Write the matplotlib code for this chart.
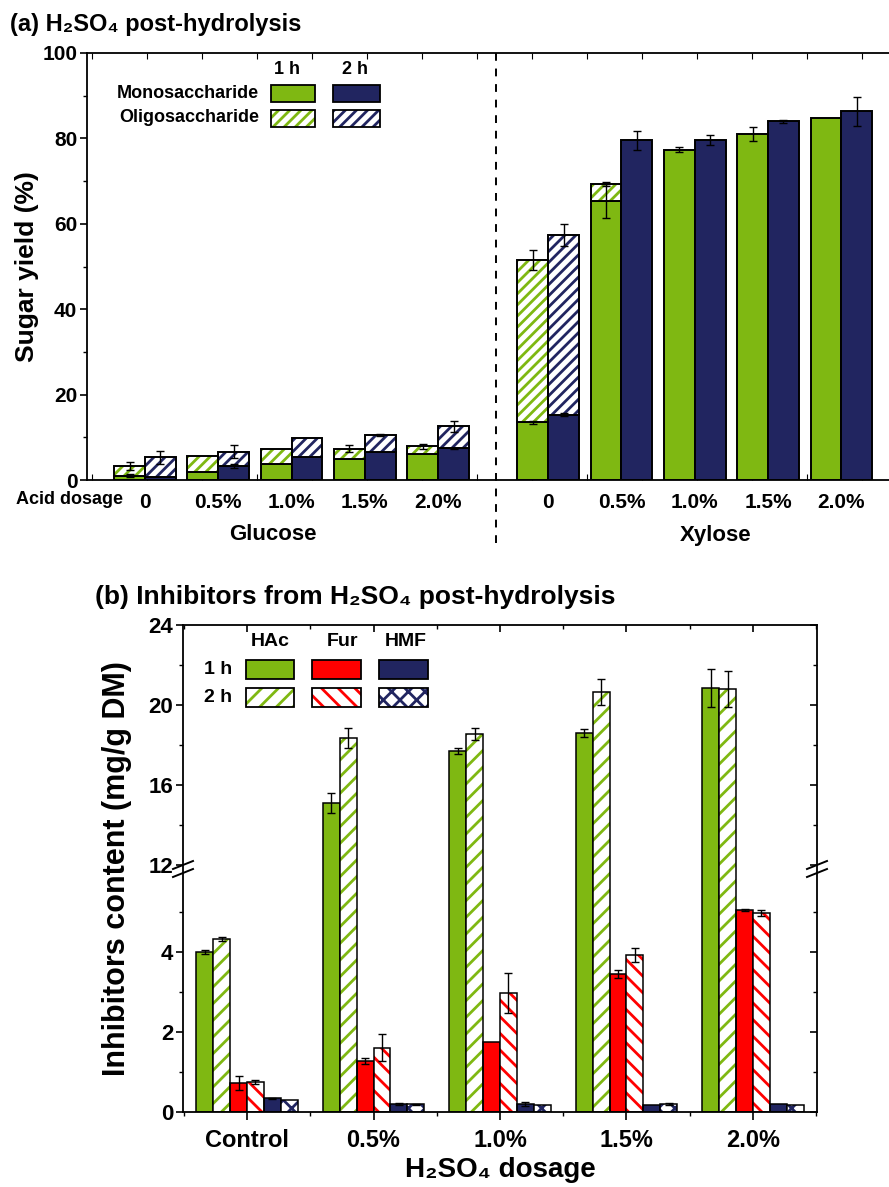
import numpy as np
import matplotlib
matplotlib.use("Agg")
import matplotlib.pyplot as plt
from matplotlib.patches import Rectangle

plt.rcParams['font.family'] = ['Liberation Sans', 'DejaVu Sans']
plt.rcParams['font.weight'] = 'bold'
plt.rcParams['hatch.linewidth'] = 2.0

W, H = 889, 1187
fig = plt.figure(figsize=(W / 100, H / 100), dpi=100)

def fx(x):
    return x / W

def fy(y):
    return 1 - y / H

GREEN = '#7fb812'
NAVY = '#212560'
RED = '#ff0000'

# ---------------- data: panel (a) ----------------
dosages_a = ['0', '0.5%', '1.0%', '1.5%', '2.0%']
glu_mono_1h = [1.0, 1.8, 3.7, 5.0, 6.1]
glu_total_1h = [3.2, 5.6, 7.2, 7.3, 7.9]
glu_mono_2h = [0.6, 3.3, 5.3, 6.6, 7.4]
glu_total_2h = [5.3, 6.6, 9.9, 10.5, 12.6]
glu_err_total_1h = [0.9, 0.0, 0.0, 0.8, 0.6]
glu_err_total_2h = [1.5, 1.5, 0.0, 0.3, 1.3]
glu_err_mono_1h = [0.4, 0.0, 0.0, 0.0, 0.0]
glu_err_mono_2h = [0.0, 0.5, 0.0, 0.0, 0.2]

xyl_mono_1h = [13.5, 65.3, 77.4, 81.0, 84.7]
xyl_total_1h = [51.5, 69.3, 77.4, 81.0, 84.7]
xyl_mono_2h = [15.3, 79.6, 79.6, 84.0, 86.4]
xyl_total_2h = [57.4, 79.6, 79.6, 84.0, 86.4]
xyl_err_total_1h = [2.3, 0.5, 0.5, 1.6, 0.0]
xyl_err_total_2h = [2.6, 2.2, 1.2, 0.3, 3.4]
xyl_err_mono_1h = [0.3, 4.0, 0.0, 0.0, 0.0]
xyl_err_mono_2h = [0.3, 0.0, 0.0, 0.0, 0.0]

# ---------------- data: panel (b) ----------------
dosages_b = ['Control', '0.5%', '1.0%', '1.5%', '2.0%']
hac_1h = [4.00, 15.1, 17.7, 18.6, 20.85]
hac_2h = [4.33, 18.35, 18.55, 20.65, 20.8]
fur_1h = [0.73, 1.28, 1.76, 3.44, 5.05]
fur_2h = [0.76, 1.61, 2.97, 3.93, 4.98]
hmf_1h = [0.34, 0.20, 0.20, 0.18, 0.19]
hmf_2h = [0.30, 0.19, 0.18, 0.20, 0.18]
hac_1h_err = [0.05, 0.5, 0.15, 0.2, 0.95]
hac_2h_err = [0.05, 0.5, 0.3, 0.65, 0.9]
fur_1h_err = [0.17, 0.08, 0.0, 0.1, 0.02]
fur_2h_err = [0.05, 0.33, 0.5, 0.17, 0.08]
hmf_1h_err = [0.01, 0.02, 0.06, 0.0, 0.0]
hmf_2h_err = [0.0, 0.01, 0.0, 0.02, 0.0]


def hatched_bar(ax, x, h, bottom, color, hatch, width, lw):
    ax.bar(x, h, width, bottom=bottom, color='white', edgecolor=color,
           hatch=hatch, linewidth=0, zorder=2)
    ax.bar(x, h, width, bottom=bottom, fill=False, edgecolor='black',
           linewidth=lw, zorder=2.5)


def errs(ax, x, y, e, cap=3.2):
    x = np.asarray(x, float); y = np.asarray(y, float); e = np.asarray(e, float)
    m = e > 0
    if m.any():
        ax.errorbar(x[m], y[m], yerr=e[m], fmt='none', ecolor='black',
                    elinewidth=1.0, capsize=cap, capthick=1.0, zorder=4)


# ======================= panel (a) =======================
axA = fig.add_axes([fx(87), fy(480), fx(889) - fx(87), fy(53) - fy(480)])
bw = 0.42
glu_x = np.arange(5, dtype=float)
xyl_x = np.arange(5, dtype=float) + 5.5

for xs, m1, t1, m2, t2 in [(glu_x, glu_mono_1h, glu_total_1h, glu_mono_2h, glu_total_2h),
                           (xyl_x, xyl_mono_1h, xyl_total_1h, xyl_mono_2h, xyl_total_2h)]:
    m1 = np.array(m1); t1 = np.array(t1); m2 = np.array(m2); t2 = np.array(t2)
    axA.bar(xs - bw / 2, m1, bw, color=GREEN, edgecolor='black', linewidth=1.4, zorder=2)
    axA.bar(xs + bw / 2, m2, bw, color=NAVY, edgecolor='black', linewidth=1.4, zorder=2)
    for i in range(5):
        if t1[i] - m1[i] > 0.05:
            hatched_bar(axA, xs[i] - bw / 2, t1[i] - m1[i], m1[i], GREEN, '///', bw, 1.4)
        if t2[i] - m2[i] > 0.05:
            hatched_bar(axA, xs[i] + bw / 2, t2[i] - m2[i], m2[i], NAVY, '///', bw, 1.4)

errs(axA, glu_x - bw / 2, glu_total_1h, glu_err_total_1h)
errs(axA, glu_x + bw / 2, glu_total_2h, glu_err_total_2h)
errs(axA, glu_x - bw / 2, glu_mono_1h, glu_err_mono_1h)
errs(axA, glu_x + bw / 2, glu_mono_2h, glu_err_mono_2h)
errs(axA, xyl_x - bw / 2, xyl_total_1h, xyl_err_total_1h)
errs(axA, xyl_x + bw / 2, xyl_total_2h, xyl_err_total_2h)
errs(axA, xyl_x - bw / 2, xyl_mono_1h, xyl_err_mono_1h)
errs(axA, xyl_x + bw / 2, xyl_mono_2h, xyl_err_mono_2h)

axA.set_xlim(-0.79, 10.15)
axA.set_ylim(0, 100)
axA.spines['right'].set_visible(False)
for s in ['left', 'top', 'bottom']:
    axA.spines[s].set_linewidth(1.3)
axA.set_yticks(np.arange(0, 101, 20))
axA.set_yticks(np.arange(10, 100, 20), minor=True)
axA.set_yticklabels([str(v) for v in range(0, 101, 20)], fontsize=15, fontweight='bold')
axA.tick_params(axis='y', which='major', direction='out', length=5, width=1.2, pad=2)
axA.tick_params(axis='y', which='minor', direction='out', length=3, width=1.0)
axA.set_xticks(np.concatenate([glu_x, xyl_x]))
axA.set_xticklabels(dosages_a + dosages_a, fontsize=15, fontweight='bold')
axA.set_xticks(-0.723 + 0.75 * np.arange(15), minor=True)
axA.tick_params(axis='x', which='major', length=0, pad=9)
axA.tick_params(axis='x', which='minor', direction='in', length=4, width=0.8,
                top=True, bottom=True)
axA.set_ylabel('Sugar yield (%)', fontsize=19, fontweight='bold', labelpad=2)

# dashed separator
xd = 4.79
axA.plot([xd, xd], [100, -16], linestyle=(0, (4, 4)), color='black', linewidth=1.4,
         clip_on=False, zorder=5)

fig.text(fx(70), fy(500), 'Acid dosage', fontsize=13, fontweight='bold', ha='center', va='center')
fig.text(fx(273), fy(535), 'Glucose', fontsize=16, fontweight='bold', ha='center', va='center')
fig.text(fx(716), fy(535), 'Xylose', fontsize=16, fontweight='bold', ha='center', va='center')
fig.text(fx(10), fy(25), '(a) H₂SO₄ post-hydrolysis', fontsize=17, fontweight='bold',
         ha='left', va='center')

# legend (a)
fig.text(fx(287), fy(70), '1 h', fontsize=13, fontweight='bold', ha='center', va='center')
fig.text(fx(355), fy(70), '2 h', fontsize=13, fontweight='bold', ha='center', va='center')
fig.text(fx(259), fy(93), 'Monosaccharide', fontsize=13, fontweight='bold', ha='right', va='center')
fig.text(fx(259), fy(118), 'Oligosaccharide', fontsize=13, fontweight='bold', ha='right', va='center')


def leg_box(x0, y0, x1, y1, color, hatch=None, lw=1.3):
    if hatch is None:
        fig.add_artist(Rectangle((fx(x0), fy(y1)), fx(x1) - fx(x0), fy(y0) - fy(y1),
                                 transform=fig.transFigure, facecolor=color,
                                 edgecolor='black', linewidth=lw))
    else:
        fig.add_artist(Rectangle((fx(x0), fy(y1)), fx(x1) - fx(x0), fy(y0) - fy(y1),
                                 transform=fig.transFigure, facecolor='white',
                                 edgecolor=color, hatch=hatch, linewidth=0))
        fig.add_artist(Rectangle((fx(x0), fy(y1)), fx(x1) - fx(x0), fy(y0) - fy(y1),
                                 transform=fig.transFigure, fill=False,
                                 edgecolor='black', linewidth=lw))


leg_box(271, 85, 315, 102, GREEN)
leg_box(333, 85, 380, 102, NAVY)
leg_box(271, 110, 315, 127, GREEN, '///')
leg_box(333, 110, 380, 127, NAVY, '///')

# ======================= panel (b) =======================
BREAK_LO, BREAK_HI, GAP = 6.0, 12.0, 0.18


def fwd(v):
    v = np.asarray(v, float)
    return np.where(v <= BREAK_LO, v,
                    np.where(v >= BREAK_HI, BREAK_LO + GAP + (v - BREAK_HI) / 2.0,
                             BREAK_LO + GAP * (v - BREAK_LO) / (BREAK_HI - BREAK_LO)))


def inv(d):
    d = np.asarray(d, float)
    return np.where(d <= BREAK_LO, d,
                    np.where(d >= BREAK_LO + GAP, BREAK_HI + (d - BREAK_LO - GAP) * 2.0,
                             BREAK_LO + (d - BREAK_LO) * (BREAK_HI - BREAK_LO) / GAP))


axB = fig.add_axes([fx(183), fy(1112), fx(817) - fx(183), fy(625) - fy(1112)])
axB.set_yscale('function', functions=(fwd, inv))
bwb = 0.134
xb = np.arange(5, dtype=float)
offs = (np.arange(6) - 2.5) * bwb
lwb = 1.1
axB.bar(xb + offs[0], hac_1h, bwb, color=GREEN, edgecolor='black', linewidth=lwb, zorder=2)
for i in range(5):
    hatched_bar(axB, xb[i] + offs[1], hac_2h[i], 0, GREEN, '//', bwb, lwb)
axB.bar(xb + offs[2], fur_1h, bwb, color=RED, edgecolor='black', linewidth=lwb, zorder=2)
for i in range(5):
    hatched_bar(axB, xb[i] + offs[3], fur_2h[i], 0, RED, '\\\\', bwb, lwb)
axB.bar(xb + offs[4], hmf_1h, bwb, color=NAVY, edgecolor='black', linewidth=lwb, zorder=2)
for i in range(5):
    hatched_bar(axB, xb[i] + offs[5], hmf_2h[i], 0, NAVY, 'xx', bwb, lwb)

errs(axB, xb + offs[0], hac_1h, hac_1h_err, 3)
errs(axB, xb + offs[1], hac_2h, hac_2h_err, 3)
errs(axB, xb + offs[2], fur_1h, fur_1h_err, 3)
errs(axB, xb + offs[3], fur_2h, fur_2h_err, 3)
errs(axB, xb + offs[4], hmf_1h, hmf_1h_err, 3)
errs(axB, xb + offs[5], hmf_2h, hmf_2h_err, 3)

axB.set_xlim(-0.506, 4.506)
axB.set_ylim(0, 24)
for s in axB.spines.values():
    s.set_linewidth(1.3)
yt = [0, 2, 4, 12, 16, 20, 24]
ytm = [1, 3, 5, 14, 18, 22]
axB.set_yticks(yt)
axB.set_yticklabels([str(v) for v in yt], fontsize=16, fontweight='bold')
axB.set_yticks(ytm, minor=True)
axB.tick_params(axis='y', which='major', direction='out', length=5, width=1.2, pad=2)
axB.tick_params(axis='y', which='minor', direction='out', length=3, width=1.0)
axB.set_xticks(xb)
axB.set_xticklabels(dosages_b, fontsize=17, fontweight='bold')
axB.set_xticks(np.arange(-0.5, 4.6, 1.0), minor=True)
axB.tick_params(axis='x', which='major', direction='out', length=6, width=1.2, pad=6)
axB.tick_params(axis='x', which='minor', direction='out', length=3, width=1.0)
axB.set_ylabel('Inhibitors content (mg/g DM)', fontsize=22, fontweight='bold', labelpad=12)
axB.set_xlabel('H₂SO₄ dosage', fontsize=20, fontweight='bold', labelpad=4)

# inward ticks on right / top via twin axes
axR = axB.twinx()
axR.set_yscale('function', functions=(fwd, inv))
axR.set_ylim(0, 24)
axR.set_yticks(yt)
axR.set_yticks(ytm, minor=True)
axR.set_yticklabels([])
axR.tick_params(axis='y', which='major', direction='in', length=5, width=1.2)
axR.tick_params(axis='y', which='minor', direction='in', length=3, width=1.0)
axR.tick_params(axis='x', which='both', bottom=False, top=False, labelbottom=False)
axR.patch.set_visible(False)
for s in axR.spines.values():
    s.set_visible(False)

axT = axB.twiny()
axT.set_xlim(-0.506, 4.506)
axT.set_xticks(xb)
axT.set_xticks(np.arange(-0.5, 4.6, 1.0), minor=True)
axT.set_xticklabels([])
axT.tick_params(axis='x', which='major', direction='in', length=5, width=1.2)
axT.tick_params(axis='x', which='minor', direction='in', length=3, width=1.0)
axT.tick_params(axis='y', which='both', left=False, right=False, labelleft=False)
axT.patch.set_visible(False)
for s in axT.spines.values():
    s.set_visible(False)

# break marks
ybr = (1112 - 869) / 487.0
for xa in (0.0, 1.0):
    for dy in (-4, 4):
        axB.plot([xa - 10 / 634, xa + 10 / 634],
                 [ybr + (dy - 4) / 487, ybr + (dy + 4) / 487],
                 transform=axB.transAxes, color='black', linewidth=1.4,
                 clip_on=False, zorder=6)

fig.text(fx(95), fy(597), '(b) Inhibitors from H₂SO₄ post-hydrolysis', fontsize=19,
         fontweight='bold', ha='left', va='center')

# legend (b)
fig.text(fx(270), fy(642), 'HAc', fontsize=14, fontweight='bold', ha='center', va='center')
fig.text(fx(343), fy(642), 'Fur', fontsize=14, fontweight='bold', ha='center', va='center')
fig.text(fx(406), fy(642), 'HMF', fontsize=14, fontweight='bold', ha='center', va='center')
fig.text(fx(232), fy(669), '1 h', fontsize=14, fontweight='bold', ha='right', va='center')
fig.text(fx(232), fy(697), '2 h', fontsize=14, fontweight='bold', ha='right', va='center')
leg_box(246, 660, 294, 679, GREEN)
leg_box(312, 660, 361, 679, RED)
leg_box(379, 660, 428, 679, NAVY)
leg_box(246, 688, 294, 707, GREEN, '//')
leg_box(312, 688, 361, 707, RED, '\\\\')
leg_box(379, 688, 428, 707, NAVY, 'xx')

fig.savefig('out.png', dpi=100)
